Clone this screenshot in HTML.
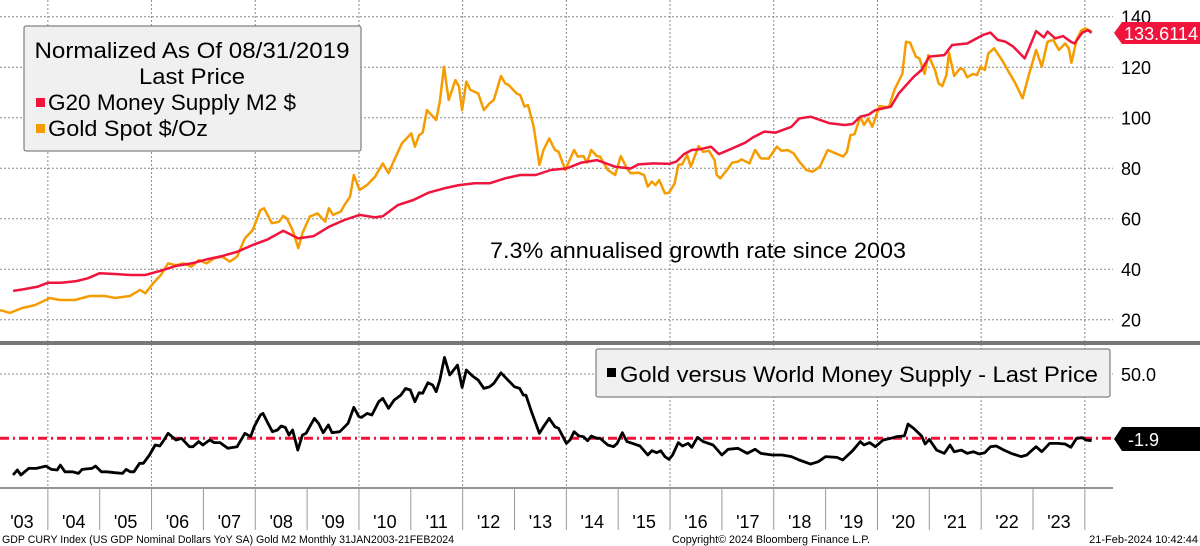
<!DOCTYPE html>
<html><head><meta charset="utf-8"><style>
html,body{margin:0;padding:0;background:#fff;}
svg{display:block;font-family:"Liberation Sans",sans-serif;}
</style></head><body>
<svg id="chart" width="1200" height="546" viewBox="0 0 1200 546" xmlns="http://www.w3.org/2000/svg">
<g id="grid"></g>
<g id="series"></g>
<g id="axes"></g>
<rect x="24" y="26" width="337" height="125" rx="2" fill="#f0f0f0" stroke="#666" stroke-width="1"/>
<text x="192" y="58" font-size="22" text-anchor="middle" textLength="315" lengthAdjust="spacingAndGlyphs">Normalized As Of 08/31/2019</text>
<text x="192" y="84" font-size="22" text-anchor="middle" textLength="106" lengthAdjust="spacingAndGlyphs">Last Price</text>
<rect x="36" y="98" width="9" height="9" fill="#f0143c"/>
<text x="48" y="110" font-size="22" textLength="248" lengthAdjust="spacingAndGlyphs">G20 Money Supply M2 $</text>
<rect x="36" y="124" width="9" height="9" fill="#f59c00"/>
<text x="48" y="136" font-size="22" textLength="160" lengthAdjust="spacingAndGlyphs">Gold Spot $/Oz</text>
<text x="490" y="258" font-size="22" textLength="416" lengthAdjust="spacingAndGlyphs">7.3% annualised growth rate since 2003</text>
<rect x="596" y="349" width="514" height="48" rx="2" fill="#f0f0f0" stroke="#666" stroke-width="1"/>
<rect x="607" y="368" width="9" height="9" fill="#000"/>
<text x="620" y="382" font-size="22" textLength="478" lengthAdjust="spacingAndGlyphs">Gold versus World Money Supply - Last Price</text>
<path d="M1114,33 L1122,22 L1200,22 L1200,44 L1122,44 Z" fill="#f0143c"/>
<text x="1124" y="40" font-size="18" fill="#fff" textLength="74" lengthAdjust="spacingAndGlyphs">133.6114</text>
<path d="M1114,439 L1122,427 L1200,427 L1200,451 L1122,451 Z" fill="#000"/>
<text x="1128" y="446" font-size="18" fill="#fff">-1.9</text>
<text x="2" y="543" font-size="11" textLength="452" lengthAdjust="spacingAndGlyphs">GDP CURY Index (US GDP Nominal Dollars YoY SA) Gold M2  Monthly 31JAN2003-21FEB2024</text>
<text x="672" y="543" font-size="11" textLength="198" lengthAdjust="spacingAndGlyphs">Copyright© 2024 Bloomberg Finance L.P.</text>
<text x="1198" y="543" font-size="11" text-anchor="end">21-Feb-2024 10:42:44</text>
</svg>
<script>
const topTicks = [20, 40, 60, 80, 100, 120, 140];
const yearLabels = ["'03","'04","'05","'06","'07","'08","'09","'10","'11","'12","'13","'14","'15","'16","'17","'18","'19","'20","'21","'22","'23"];
const m2Dates = [2003.33,2003.52,2003.81,2004.0,2004.26,2004.55,2004.77,2005.0,2005.29,2005.59,2005.88,2006.18,2006.47,2006.77,2007.06,2007.36,2007.65,2007.95,2008.24,2008.54,2008.83,2009.13,2009.42,2009.72,2010.01,2010.31,2010.46,2010.75,2011.05,2011.34,2011.64,2011.93,2012.23,2012.52,2012.82,2013.11,2013.41,2013.7,2014.0,2014.29,2014.59,2014.94,2015.24,2015.39,2015.68,2015.98,2016.12,2016.27,2016.42,2016.57,2016.79,2016.94,2017.16,2017.45,2017.6,2017.82,2018.04,2018.34,2018.49,2018.71,2019.08,2019.37,2019.52,2019.67,2019.82,2019.96,2020.26,2020.41,2020.7,2020.85,2021.0,2021.29,2021.44,2021.73,2022.03,2022.18,2022.32,2022.47,2022.62,2022.84,2022.91,2023.06,2023.21,2023.28,2023.43,2023.58,2023.73,2023.8,2023.95,2024.06,2024.13];
const m2Values = [31.4,32.0,33.1,34.6,34.6,35.3,36.4,38.4,38.1,37.7,37.7,39.4,41.3,42.3,43.9,45.2,46.9,49.6,51.8,55.2,52.2,53.1,56.8,59.5,61.5,60.5,61.0,65.4,67.4,70.3,72.0,73.3,74.0,74.0,76.0,77.3,77.3,79.3,79.9,82.2,83.2,80.6,79.9,81.5,81.9,81.7,82.6,85.6,87.2,87.5,88.5,85.6,87.5,90.1,92.2,94.5,94.1,96.4,99.7,100.4,97.8,97.1,97.5,100.4,101.1,103.0,104.4,109.6,116.2,118.9,124.2,124.8,128.8,129.4,132.7,133.7,130.8,130.1,128.1,123.5,126.8,134.3,131.8,134.1,131.4,132.3,130.1,129.4,133.7,134.7,133.6];
const goldDates = [2003.08,2003.27,2003.5,2003.75,2004.04,2004.23,2004.52,2004.81,2005.1,2005.3,2005.58,2005.78,2005.88,2006.03,2006.18,2006.32,2006.47,2006.62,2006.77,2006.91,2007.06,2007.21,2007.36,2007.51,2007.65,2007.8,2007.95,2008.1,2008.17,2008.32,2008.46,2008.54,2008.61,2008.72,2008.83,2008.91,2009.05,2009.2,2009.35,2009.42,2009.5,2009.65,2009.72,2009.83,2009.9,2010.01,2010.16,2010.31,2010.46,2010.57,2010.68,2010.83,2011.01,2011.08,2011.16,2011.23,2011.31,2011.49,2011.56,2011.64,2011.73,2011.86,2011.93,2011.99,2012.07,2012.15,2012.3,2012.41,2012.52,2012.6,2012.74,2012.82,2012.89,2013.04,2013.11,2013.19,2013.26,2013.37,2013.48,2013.56,2013.67,2013.78,2013.85,2013.98,2014.15,2014.22,2014.33,2014.4,2014.48,2014.59,2014.65,2014.8,2014.94,2015.05,2015.17,2015.24,2015.39,2015.5,2015.57,2015.65,2015.72,2015.79,2015.9,2015.98,2016.09,2016.16,2016.23,2016.33,2016.4,2016.55,2016.64,2016.75,2016.86,2016.9,2016.97,2017.12,2017.2,2017.31,2017.38,2017.53,2017.64,2017.75,2017.9,2018.06,2018.15,2018.27,2018.38,2018.49,2018.63,2018.75,2018.89,2019.04,2019.19,2019.34,2019.41,2019.48,2019.56,2019.67,2019.74,2019.82,2019.9,2020.04,2020.22,2020.33,2020.48,2020.55,2020.63,2020.74,2020.81,2020.91,2020.98,2021.11,2021.18,2021.25,2021.33,2021.38,2021.48,2021.59,2021.66,2021.73,2021.84,2021.92,2021.99,2022.07,2022.14,2022.25,2022.4,2022.51,2022.66,2022.8,2022.91,2023.06,2023.17,2023.28,2023.39,2023.5,2023.62,2023.69,2023.74,2023.84,2023.93,2024.01,2024.13];
const goldValues = [23.8,22.7,24.6,25.8,28.6,27.8,27.8,29.4,29.4,28.6,29.4,31.8,30.4,34.4,37.7,42.3,41.6,42.3,41.0,43.6,42.3,44.3,45.0,43.0,45.0,52.2,55.5,63.4,64.1,58.2,58.8,61.1,60.1,55.5,48.3,54.2,60.8,62.1,58.8,64.1,61.5,62.8,65.4,68.7,77.3,71.4,73.4,76.6,81.9,78.0,83.2,89.9,93.8,88.5,93.1,94.1,103.0,99.1,106.3,120.2,107.0,114.9,112.3,103.0,114.3,111.0,109.6,103.0,105.7,107.0,116.5,113.6,112.9,109.6,109.0,104.4,105.0,96.4,81.3,87.2,91.8,87.2,86.5,79.3,87.2,84.6,84.8,82.2,87.2,84.8,84.6,79.3,77.3,84.8,79.9,78.0,78.2,77.3,72.7,74.7,73.3,75.3,70.0,70.3,74.0,81.3,81.5,85.2,80.6,88.8,86.5,86.9,83.2,77.3,76.0,79.9,82.2,82.6,83.5,81.9,87.2,83.9,83.8,88.5,86.9,87.2,85.9,82.6,79.3,78.6,80.6,87.2,85.9,84.6,86.5,93.1,93.5,100.4,97.1,99.7,96.4,104.6,104.1,111.2,117.3,130.1,129.7,124.2,123.5,117.3,124.8,118.9,113.6,112.5,116.9,125.8,116.5,119.5,119.1,116.0,117.3,116.9,120.2,118.9,125.5,127.5,122.9,118.9,113.6,107.7,116.2,126.8,120.2,130.1,130.8,126.8,129.4,127.5,121.8,130.8,134.5,135.4,134.1];
const ratioDates = [2003.33,2003.41,2003.48,2003.63,2003.78,2003.96,2004.07,2004.18,2004.24,2004.33,2004.48,2004.59,2004.66,2004.85,2004.92,2005.03,2005.14,2005.29,2005.44,2005.51,2005.59,2005.66,2005.77,2005.84,2005.96,2006.07,2006.16,2006.24,2006.32,2006.47,2006.58,2006.73,2006.8,2006.91,2006.99,2007.12,2007.21,2007.32,2007.47,2007.65,2007.8,2007.91,2007.98,2008.1,2008.15,2008.24,2008.33,2008.43,2008.5,2008.58,2008.65,2008.72,2008.82,2008.91,2008.98,2009.05,2009.14,2009.22,2009.31,2009.41,2009.48,2009.63,2009.79,2009.9,2010.0,2010.05,2010.16,2010.25,2010.38,2010.46,2010.57,2010.68,2010.81,2010.9,2010.99,2011.08,2011.16,2011.23,2011.33,2011.42,2011.49,2011.56,2011.65,2011.75,2011.9,2011.99,2012.07,2012.19,2012.3,2012.41,2012.52,2012.6,2012.74,2012.86,2013.0,2013.1,2013.17,2013.22,2013.34,2013.48,2013.56,2013.67,2013.78,2013.85,2014.0,2014.07,2014.15,2014.24,2014.33,2014.41,2014.48,2014.59,2014.65,2014.8,2014.91,2014.98,2015.08,2015.17,2015.31,2015.42,2015.57,2015.65,2015.74,2015.82,2015.9,2015.98,2016.05,2016.16,2016.24,2016.35,2016.42,2016.53,2016.64,2016.83,2017.0,2017.12,2017.31,2017.49,2017.64,2017.75,2017.97,2018.16,2018.34,2018.49,2018.71,2018.86,2019.0,2019.22,2019.33,2019.52,2019.67,2019.74,2019.85,2019.96,2020.11,2020.26,2020.37,2020.52,2020.59,2020.7,2020.85,2020.92,2021.0,2021.14,2021.29,2021.4,2021.48,2021.62,2021.73,2021.85,2021.96,2022.07,2022.18,2022.29,2022.44,2022.58,2022.77,2022.88,2022.95,2023.06,2023.17,2023.32,2023.47,2023.62,2023.73,2023.84,2023.95,2024.02,2024.13];
const ratioValues = [-31.5,-27.5,-31.5,-26.2,-26.2,-24.3,-27.0,-27.5,-23.5,-28.9,-28.9,-30.2,-27.0,-26.2,-24.3,-28.9,-28.9,-29.7,-30.2,-27.0,-28.9,-28.9,-22.1,-22.1,-15.4,-7.3,-8.1,-3.3,2.1,-3.3,-2.0,-8.7,-8.7,-4.6,-7.3,-3.3,-5.4,-5.4,-10.0,-8.7,2.1,-0.6,7.5,16.9,18.2,10.7,3.4,4.8,8.0,6.9,0.7,4.8,-11.4,0.7,2.1,7.5,14.2,10.2,2.6,8.8,2.6,3.4,10.2,23.1,15.5,15.0,18.2,16.9,27.6,30.3,22.3,29.0,33.0,38.4,37.1,27.6,34.9,34.4,43.0,41.1,35.7,45.1,63.4,49.2,57.2,39.2,53.2,48.4,45.1,38.4,39.7,42.4,51.0,45.7,39.7,38.4,33.0,33.0,18.2,2.1,7.5,14.2,7.5,6.1,-6.0,-3.3,3.4,0.0,-0.6,-3.8,-0.1,-1.9,-1.9,-7.3,-8.7,-6.0,2.6,-4.6,-6.5,-8.1,-15.4,-11.9,-13.5,-11.9,-16.7,-18.9,-15.4,-5.4,-8.1,-6.0,-9.2,-1.1,-4.6,-7.3,-15.4,-10.8,-10.0,-14.1,-10.8,-14.1,-15.4,-15.4,-16.7,-19.4,-22.7,-20.8,-16.7,-17.3,-19.4,-11.9,-4.6,-7.3,-5.4,-8.7,-3.3,-1.9,-0.6,0.0,9.6,6.1,0.0,-6.5,-2.8,-11.4,-14.1,-7.3,-12.7,-11.4,-14.1,-12.7,-14.6,-13.5,-8.7,-8.1,-11.4,-14.1,-16.7,-15.4,-12.7,-8.7,-12.7,-6.0,-6.0,-6.5,-9.2,-1.9,-1.4,-3.3,-3.8];
const ratioLast = -1.9;
const ratioGridValue = 50.0;

const NS = "http://www.w3.org/2000/svg";
const PLOT_RIGHT = 1113;
function xScale(t){ return -4 + (t - 2003) * 51.85; }
function yTop(v){ return 16.7 + (140 - v) * 2.525; }
function yBot(v){ return 438.3 - (v - ratioLast) * 1.239; }
function mk(tag, attrs, parent){
  const el = document.createElementNS(NS, tag);
  for (const k in attrs) el.setAttribute(k, attrs[k]);
  parent.appendChild(el);
  return el;
}
const grid = document.getElementById('grid');
const series = document.getElementById('series');
const axes = document.getElementById('axes');

topTicks.forEach(v => {
  const y = yTop(v);
  const gl = mk('line', {x1:0, x2:PLOT_RIGHT, y1:y, y2:y, stroke:'#888', 'stroke-width':1, 'stroke-dasharray':'2,2'}, grid);
  
  
  const t = mk('text', {x:1121, y:y+7, 'font-size':18}, axes);
  
  
  t.textContent = v;
});
{
  const y = yBot(ratioGridValue);
  const gl = mk('line', {x1:0, x2:PLOT_RIGHT, y1:y, y2:y, stroke:'#888', 'stroke-width':1, 'stroke-dasharray':'2,2'}, grid);
  
  
  const t = mk('text', {x:1121, y:y+7, 'font-size':18}, axes);
  
  
  t.textContent = ratioGridValue.toFixed(1);
}
for (let yr = 2004; yr <= 2024; yr += 2) {
  const x = xScale(yr);
  const gl = mk('line', {x1:x, x2:x, y1:0, y2:488, stroke:'#888', 'stroke-width':1, 'stroke-dasharray':'2,2'}, grid);
  
  
}
{
  const d = mk('rect', {x:0, y:341, width:1200, height:4, fill:'#777'}, axes);
  
  
  const a = mk('line', {x1:0, x2:PLOT_RIGHT, y1:488, y2:488, stroke:'#555', 'stroke-width':1.2}, axes);
  
  
}
yearLabels.forEach((lab, i) => {
  const yr = 2003 + i;
  const x0 = xScale(yr);
  if (i > 0) {
    const tk = mk('line', {x1:x0, x2:x0, y1:488, y2:530, stroke:'#999', 'stroke-width':1}, axes);
    
    
  }
  const t = mk('text', {x:xScale(yr + 0.5), y:528, 'font-size':18, 'text-anchor':'middle'}, axes);
  
  
  t.textContent = lab;
});
{
  const tk = mk('line', {x1:xScale(2024), x2:xScale(2024), y1:488, y2:530, stroke:'#999', 'stroke-width':1}, axes);
  
  
}
{
  const y = yBot(ratioLast);
  const rl = mk('line', {x1:0, x2:PLOT_RIGHT, y1:y, y2:y, stroke:'#f0143c', 'stroke-width':3, 'stroke-dasharray':'9,4,2,4'}, series);
  
  
}
function path(dates, vals, yf){
  return dates.map((d,i) => (i ? 'L' : 'M') + xScale(d).toFixed(1) + ',' + yf(vals[i]).toFixed(1)).join(' ');
}
const goldLine = mk('path', {d:path(goldDates, goldValues, yTop), fill:'none', stroke:'#f59c00', 'stroke-width':2.5, 'stroke-linejoin':'round'}, series);


const m2Line = mk('path', {d:path(m2Dates, m2Values, yTop), fill:'none', stroke:'#f0143c', 'stroke-width':2.5, 'stroke-linejoin':'round'}, series);


const ratioLine = mk('path', {d:path(ratioDates, ratioValues, yBot), fill:'none', stroke:'#000', 'stroke-width':2.8, 'stroke-linejoin':'round'}, series);


</script>
</body></html>
